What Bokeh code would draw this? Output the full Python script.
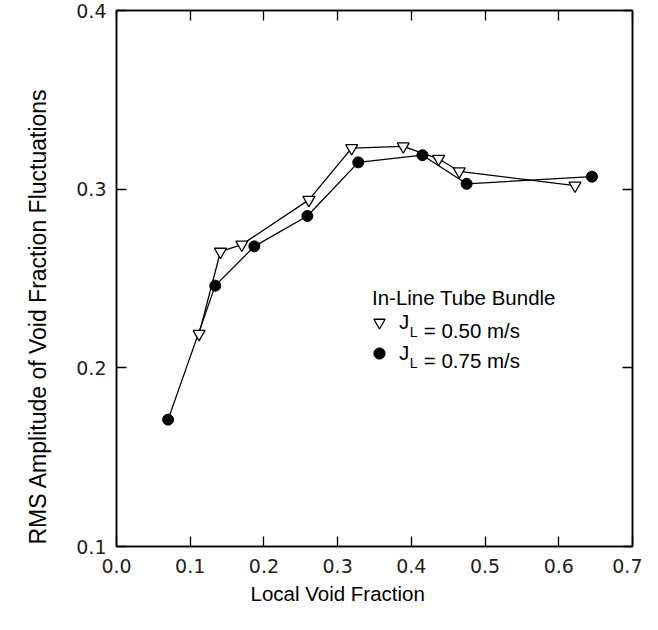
from bokeh.plotting import figure
from bokeh.models import (FixedTicker, PrintfTickFormatter, CustomJSTickFormatter,
                          LinearAxis, Label, Legend, LegendItem, Title)
from bokeh.embed import file_html
from bokeh.resources import INLINE

# ---- data ----
tri_x = [0.112, 0.141, 0.170, 0.261, 0.319, 0.389, 0.437, 0.465, 0.622]
tri_y = [0.219, 0.265, 0.269, 0.294, 0.323, 0.324, 0.317, 0.310, 0.302]
dot_x = [0.070, 0.134, 0.187, 0.259, 0.328, 0.415, 0.475, 0.645]
dot_y = [0.171, 0.246, 0.268, 0.285, 0.315, 0.319, 0.303, 0.307]

x_ticks = [0.0, 0.1, 0.2, 0.3, 0.4, 0.5, 0.6, 0.7]
y_ticks = [0.1, 0.2, 0.3, 0.4]

x_title = "Local Void Fraction"
y_title = "RMS Amplitude of Void Fraction Fluctuations"
legend_title = "In-Line Tube Bundle"
series_vals = ["= 0.50 m/s", "= 0.75 m/s"]

LBL_FONT = "Liberation Sans"
TICK_FONT = "DejaVu Sans"

p = figure(width=642, height=614, x_range=(0, 0.7), y_range=(0.1, 0.4),
           output_backend="svg", toolbar_location=None,
           min_border_left=113, min_border_right=10, min_border_top=10,
           min_border_bottom=68)
p.xgrid.grid_line_color = None
p.ygrid.grid_line_color = None
p.outline_line_color = "black"
p.outline_line_width = 1.5
p.background_fill_color = "white"
p.border_fill_color = "white"


def style_axis(ax, ticks, show_labels):
    ax.ticker = FixedTicker(ticks=ticks)
    ax.major_tick_in = 10
    ax.major_tick_out = 0
    ax.minor_tick_line_color = None
    ax.axis_line_width = 1.5
    ax.major_tick_line_width = 1.3
    ax.axis_line_color = "black"
    ax.major_tick_line_color = "black"
    if show_labels:
        ax.formatter = PrintfTickFormatter(format="%.1f")
        ax.major_label_text_font = TICK_FONT
        ax.major_label_text_font_size = "19px"
        ax.major_label_text_color = "#222222"
    else:
        ax.formatter = CustomJSTickFormatter(code="return ''")
        ax.major_label_text_font_size = "0px"
        ax.major_label_standoff = 0


xa = p.xaxis[0]
ya = p.yaxis[0]
style_axis(xa, x_ticks, True)
style_axis(ya, y_ticks, True)
xa.major_label_standoff = 12
ya.major_label_standoff = 10

top = LinearAxis()
style_axis(top, x_ticks, False)
p.add_layout(top, "above")
right = LinearAxis()
style_axis(right, y_ticks, False)
p.add_layout(right, "right")

# ---- axis titles (off-centre as in the reference) ----
xt = Title(text=x_title, align="left", offset=134, standoff=8,
           text_font=LBL_FONT, text_font_size="20.5px",
           text_font_style="normal", text_color="black")
p.add_layout(xt, "below")
yt = Title(text=y_title, align="left", offset=2, standoff=45,
           text_font=LBL_FONT, text_font_size="23px",
           text_font_style="normal", text_color="black")
p.add_layout(yt, "left")

# ---- series ----
p.line(tri_x, tri_y, line_color="black", line_width=1.3)
p.line(dot_x, dot_y, line_color="black", line_width=1.3)
tri_r = p.scatter(tri_x, tri_y, marker="inverted_triangle", size=12,
                  fill_color="white", line_color="black", line_width=1.3)
dot_r = p.scatter(dot_x, dot_y, marker="circle", size=11,
                  fill_color="black", line_color="black")

# ---- legend ----
leg = Legend(items=[LegendItem(label="J", renderers=[tri_r]),
                    LegendItem(label="J", renderers=[dot_r])],
             location=(249, 178), orientation="vertical",
             glyph_width=28, glyph_height=30, label_height=30,
             label_standoff=6, spacing=1, padding=0, margin=0,
             border_line_color=None, background_fill_alpha=0,
             label_text_font=LBL_FONT, label_text_font_size="20.5px",
             label_text_color="black", label_text_baseline="middle")
p.add_layout(leg, "center")

p.add_layout(Label(x=0.3466, y=0.2394, text=legend_title, text_font=LBL_FONT,
                   text_font_size="20.5px", text_color="black",
                   text_baseline="alphabetic"))
for val, yb, ys in zip(series_vals, [0.2209, 0.2041], [0.2198, 0.2027]):
    p.add_layout(Label(x=0.3979, y=ys, text="L", text_font=LBL_FONT,
                       text_font_size="14px", text_color="black",
                       text_baseline="alphabetic"))
    p.add_layout(Label(x=0.4168, y=yb, text=val, text_font=LBL_FONT,
                       text_font_size="20.5px", text_color="black",
                       text_baseline="alphabetic"))

open("out.html", "w").write(file_html(p, INLINE))
